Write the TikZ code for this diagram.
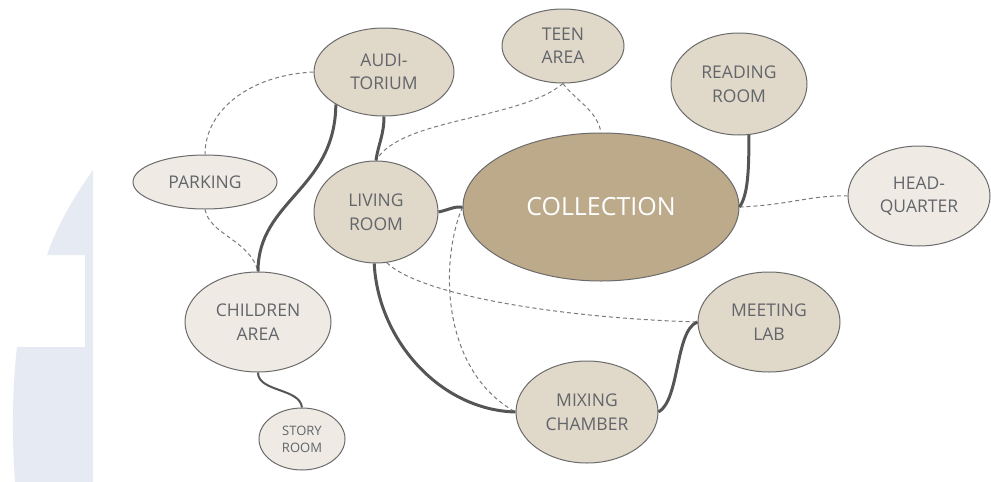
\documentclass[tikz,border=0pt]{standalone}
\usepackage{fontspec}
\setmainfont{Open Sans}
\usetikzlibrary{shapes.geometric}
\definecolor{bgblue}{HTML}{E6EAF2}
\definecolor{darkfill}{HTML}{E0D8C8}
\definecolor{lightfill}{HTML}{EFEBE4}
\definecolor{colfill}{HTML}{BCAA8A}
\definecolor{edgegray}{HTML}{6B6B6B}
\definecolor{txtgray}{HTML}{62656B}
\definecolor{linkgray}{HTML}{555555}
\definecolor{dashgray}{HTML}{7A7A7A}
\tikzset{
  room/.style={ellipse, draw=edgegray, line width=1pt, inner sep=0pt, align=center,
    text=txtgray, font=\fontsize{17.5}{23.5}\selectfont},
  darkroom/.style={room, fill=darkfill},
  lightroom/.style={room, fill=lightfill},
  strong/.style={draw=linkgray, line width=3pt},
  medium/.style={draw=linkgray, line width=2pt},
  weak/.style={draw=dashgray, line width=1pt, dash pattern=on 4pt off 3pt},
}
\begin{document}
\begin{tikzpicture}[x=1pt,y=-1pt]
\useasboundingbox (0,0) rectangle (991,482);
% background shape
\fill[bgblue] (93,170) .. controls (80,188) and (58,222) .. (47,255) -- (85,255) -- (85,347) -- (17,347)
  .. controls (12,390) and (12,440) .. (15,482) -- (93,482) -- cycle;
% nodes
\node[darkroom, minimum width=140pt, minimum height=88pt] (aud) at (384,72) {AUDI-\\TORIUM};
\node[darkroom, minimum width=122pt, minimum height=74pt] (teen) at (563,46) {TEEN\\AREA};
\node[darkroom, minimum width=136pt, minimum height=102pt] (read) at (739,84) {READING\\ROOM};
\node[ellipse, draw=edgegray, line width=1pt, fill=colfill, text=white, inner sep=0pt,
  minimum width=276pt, minimum height=148pt, font=\fontsize{25}{30}\selectfont] (col) at (601,207) {COLLECTION};
\node[lightroom, minimum width=142pt, minimum height=100pt] (hq) at (919,196) {HEAD-\\QUARTER};
\node[lightroom, minimum width=144pt, minimum height=54pt] (park) at (205,182) {PARKING};
\node[darkroom, minimum width=124pt, minimum height=102pt] (liv) at (376,212) {LIVING\\ROOM};
\node[lightroom, minimum width=146pt, minimum height=100pt] (child) at (258,322) {CHILDREN\\AREA};
\node[lightroom, minimum width=86pt, minimum height=62pt, font=\fontsize{13}{17}\selectfont] (story) at (302,439) {STORY\\ROOM};
\node[darkroom, minimum width=142pt, minimum height=102pt] (mix) at (587,412) {MIXING\\CHAMBER};
\node[darkroom, minimum width=142pt, minimum height=100pt] (meet) at (769,322) {MEETING\\LAB};
% dashed links
\draw[weak] (aud.west) .. controls (250,75) and (205,110) .. (park.north);
\draw[weak] (park.south) .. controls (210,235) and (250,240) .. (child.north);
\draw[weak] (teen.south) .. controls (575,100) and (597,110) .. (col.north);
\draw[weak] (teen.south) .. controls (520,120) and (400,118) .. (liv.north);
\draw[weak] (col.east) .. controls (790,205) and (810,195) .. (hq.west);
\draw[weak] (liv.282) .. controls (420,295) and (560,318) .. (meet.west);
\draw[weak] (col.west) .. controls (440,260) and (440,370) .. (mix.west);
% solid links
\draw[strong] (aud.214) .. controls (335,190) and (258,200) .. (child.north);
\draw[strong] (aud.south) .. controls (384,135) and (378,145) .. (liv.north);
\draw[strong] (liv.east) .. controls (448,210) and (455,206) .. (col.west);
\draw[strong] (col.east) .. controls (748,195) and (749,170) .. (read.281);
\draw[strong] (liv.268) .. controls (378,340) and (440,410) .. (mix.west);
\draw[strong] (mix.east) .. controls (680,400) and (675,330) .. (meet.west);
\draw[medium] (child.south) .. controls (258,392) and (300,388) .. (story.north);
\end{tikzpicture}
\end{document}
